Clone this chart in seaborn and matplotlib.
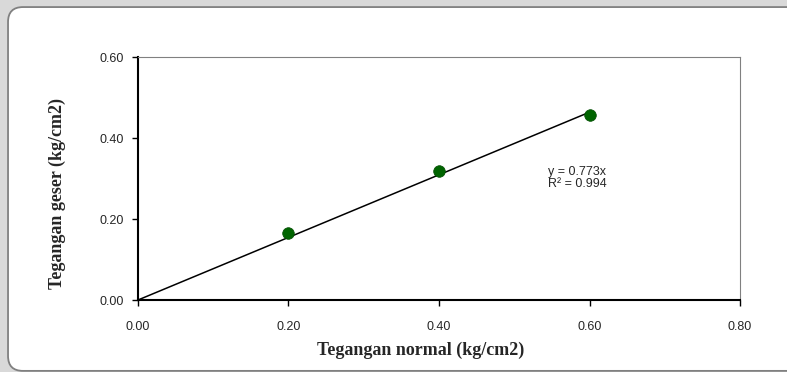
import numpy as np
import pandas as pd
import matplotlib.pyplot as plt
import seaborn as sns
from matplotlib.patches import FancyBboxPatch


# -----------------------------
# Data
# -----------------------------
normal_stress = [0.20, 0.40, 0.60]
shear_stress = [0.165, 0.318, 0.456]
slope = 0.773
r_squared = 0.994
trend_x = [0.0, 0.60]
x_ticks = [0.0, 0.2, 0.4, 0.6, 0.8]
y_ticks = [0.0, 0.2, 0.4, 0.6]

sns.set_style("white")
plt.rcParams["font.family"] = ["Liberation Sans", "DejaVu Sans"]

df = pd.DataFrame({"x": normal_stress, "y": shear_stress})
trend = pd.DataFrame({"x": trend_x, "y": [slope * v for v in trend_x]})

fig = plt.figure(figsize=(7.87, 3.72), dpi=100)
fig.patch.set_facecolor("#d9d9d9")

# rounded white frame
frame = FancyBboxPatch((0.0102, 0.003), 1.2, 0.978,
                       boxstyle="round,pad=0,rounding_size=0.019",
                       transform=fig.transFigure, facecolor="white",
                       edgecolor="#808080", linewidth=1.3, zorder=-5,
                       mutation_aspect=787 / 372)
fig.patches.append(frame)

ax = fig.add_axes([0.1753, 0.1935, 0.765, 0.6532])
ax.set_zorder(2)
ax.set_facecolor("white")

sns.lineplot(data=trend, x="x", y="y", color="black", linewidth=1.1, ax=ax)
sns.scatterplot(data=df, x="x", y="y", color="#006400", s=70,
                edgecolor="#004d00", linewidth=0.5, ax=ax, zorder=3)

ax.set_xlim(0, 0.8)
ax.set_ylim(0, 0.6)
ax.set_xticks(x_ticks)
ax.set_yticks(y_ticks)
ax.set_xticklabels([f"{v:.2f}" for v in x_ticks], fontsize=9)
ax.set_yticklabels([f"{v:.2f}" for v in y_ticks], fontsize=9)
ax.tick_params(axis="both", direction="out", length=4, width=1, color="black",
               bottom=True, left=True)
ax.tick_params(axis="x", pad=11)
ax.tick_params(axis="y", pad=6)

for side in ["left", "bottom"]:
    ax.spines[side].set_color("black")
    ax.spines[side].set_linewidth(1.5)
for side in ["top", "right"]:
    ax.spines[side].set_color("#808080")
    ax.spines[side].set_linewidth(0.8)

ax.set_xlabel("Tegangan normal (kg/cm2)", fontsize=13, fontweight="bold",
              family=["Liberation Serif"])
ax.set_ylabel("Tegangan geser (kg/cm2)", fontsize=13, fontweight="bold",
              family=["Liberation Serif"])
ax.xaxis.set_label_coords((421 - 138) / 602, -0.206)
ax.yaxis.set_label_coords((57 - 138) / 602, 0.44)
ax.xaxis.label.set_va("center")
ax.yaxis.label.set_va("center")

ax.text(0.545, 0.331, f"y = {slope}x\nR² = {r_squared}", fontsize=9,
        ha="left", va="top", linespacing=1.0)

fig.savefig("out.png", dpi=100, facecolor=fig.get_facecolor())
